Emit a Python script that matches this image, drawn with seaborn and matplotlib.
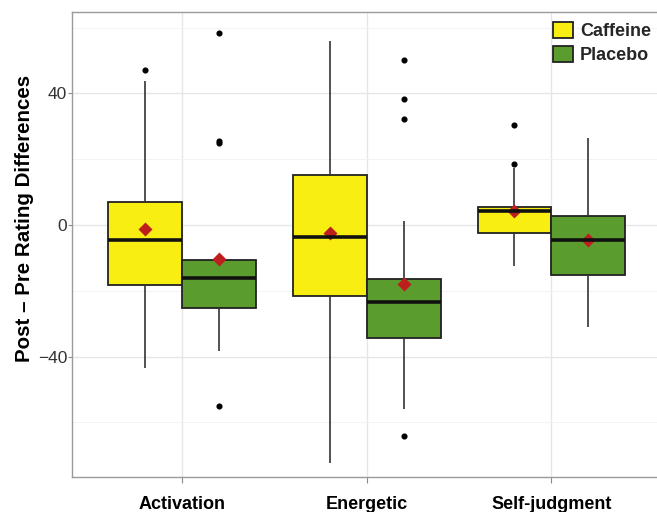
import pandas as pd
import matplotlib.pyplot as plt
import seaborn as sns

# values
categories = ["Activation", "Energetic", "Self-judgment"]
groups = ["Caffeine", "Placebo"]

caff_lo = [-43.4, -72.2, -12.4]
caff_q1 = [-18.3, -21.5, -2.4]
caff_med = [-4.6, -3.6, 4.3]
caff_q3 = [6.9, 15.3, 5.6]
caff_hi = [43.8, 56.0, 17.2]
caff_mean = [-1.3, -2.3, 4.3]
caff_out = [[47.0], [], [18.4, 30.3]]

plac_lo = [-38.2, -56.0, -31.1]
plac_q1 = [-25.3, -34.3, -15.2]
plac_med = [-16.2, -23.3, -4.6]
plac_q3 = [-10.7, -16.4, 2.6]
plac_hi = [-10.7, 1.3, 26.5]
plac_mean = [-10.2, -17.8, -4.6]
plac_out = [[58.3, 25.6, 25.0, -55.0], [50.1, 38.2, 32.2, -64.0], []]

box_colors = ["#F9EE12", "#5A9C2E"]
mean_color = "#BE1E1E"

# long table whose quartiles / whiskers reproduce the read summaries
rows = []
stats = {
    "Caffeine": (caff_lo, caff_q1, caff_med, caff_q3, caff_hi, caff_out),
    "Placebo": (plac_lo, plac_q1, plac_med, plac_q3, plac_hi, plac_out),
}
for g, (lo, q1, med, q3, hi, out) in stats.items():
    for i, c in enumerate(categories):
        vals = [lo[i]] + [q1[i]] * 12 + [med[i]] * 12 + [q3[i]] * 12 + [hi[i]] + out[i]
        for v in vals:
            rows.append({"measure": c, "group": g, "diff": v})
df = pd.DataFrame(rows)

means = pd.DataFrame({
    "measure": categories * 2,
    "group": ["Caffeine"] * 3 + ["Placebo"] * 3,
    "diff": caff_mean + plac_mean,
})

sns.set_style("white")
plt.rcParams["font.family"] = ["Liberation Sans", "DejaVu Sans"]

fig = plt.figure(figsize=(6.57, 5.12), dpi=100)
ax = fig.add_axes([0.1096, 0.0684, 0.905, 0.908])

sns.boxplot(data=df, x="measure", y="diff", hue="group", order=categories,
            hue_order=groups, palette=box_colors, saturation=1, width=0.8, gap=0,
            linewidth=1.3, linecolor="#222222", showcaps=False,
            flierprops=dict(marker="o", markersize=3.4, markerfacecolor="black",
                            markeredgecolor="black"),
            medianprops=dict(color="#111111", linewidth=2.6),
            whiskerprops=dict(color="#333333", linewidth=1.2),
            ax=ax)

sns.pointplot(data=means, x="measure", y="diff", hue="group", order=categories,
              hue_order=groups, palette=[mean_color, mean_color], dodge=0.4,
              linestyle="none", marker="D", markersize=5.5, errorbar=None,
              legend=False, ax=ax)

ax.set_xlim(-0.596, 2.624)
ax.set_ylim(-76.6, 64.7)
ax.set_yticks([-40, 0, 40])
ax.set_yticks([-60, -20, 20, 60], minor=True)
ax.set_xlabel("")
ax.set_ylabel("Post \u2013 Pre Rating Differences", fontsize=14.8, fontweight="bold",
              color="black")
ax.yaxis.set_label_coords(-0.064, 0.557)

ax.grid(True, which="major", color="#E6E6E6", linewidth=1.0)
ax.grid(True, which="minor", axis="y", color="#F3F3F3", linewidth=0.7)
ax.set_axisbelow(True)
for s in ax.spines.values():
    s.set_color("#9A9A9A")
    s.set_linewidth(1.0)

ax.tick_params(axis="y", which="major", length=3, width=0.8, color="#8A8A8A",
               labelsize=12.5, labelcolor="#333333", pad=0.5, left=True)
ax.tick_params(axis="y", which="minor", length=0)
ax.tick_params(axis="x", length=4, width=0.8, color="#8A8A8A", labelsize=13,
               labelcolor="black", pad=10, bottom=True)
for lab in ax.get_xticklabels():
    lab.set_fontweight("bold")

handles, labels = ax.get_legend_handles_labels()
leg = ax.legend(handles[:2], labels[:2], loc="upper left",
                bbox_to_anchor=(553 / 657, 1 - 22 / 512), bbox_transform=fig.transFigure,
                frameon=False, prop={"weight": "bold", "size": 13},
                handlelength=1.1, handleheight=1.0, handletextpad=0.4,
                labelspacing=0.3, borderpad=0, borderaxespad=0)

fig.savefig("out.png", dpi=100)
